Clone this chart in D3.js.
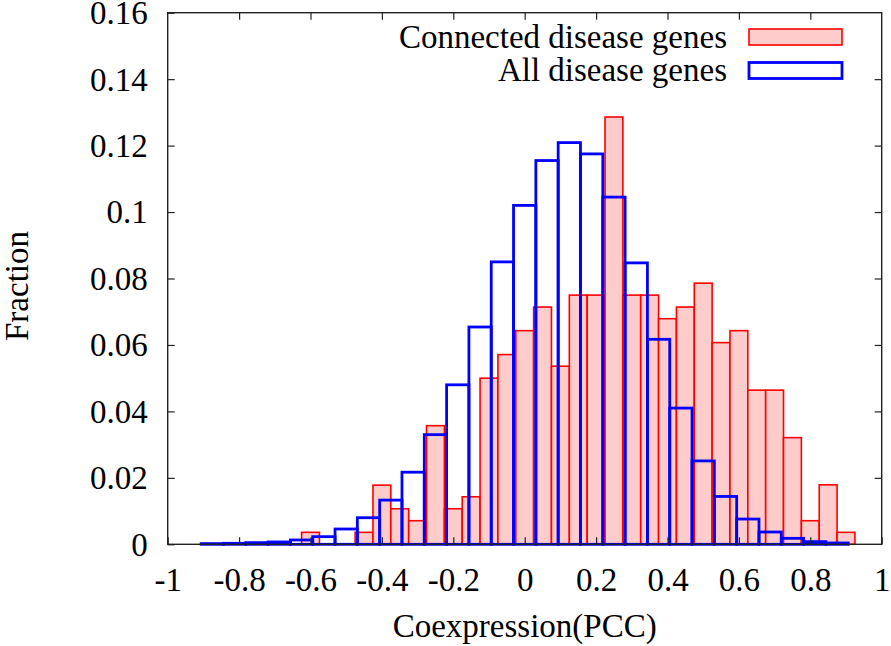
<!DOCTYPE html>
<html>
<head>
<meta charset="utf-8">
<script src="https://cdn.jsdelivr.net/npm/d3@7"></script>
<style>
  html, body { margin: 0; padding: 0; background: #fff; }
  svg { display: block; }
  text { font-family: "Liberation Serif", "Times New Roman", serif; fill: #000; }
</style>
</head>
<body>
<svg id="chart" width="891" height="646"></svg>
<script>
// ---- Data ----
// Connected disease genes: bin centers (width 0.05) and fractions
const connectedCenters = [-0.6, -0.45, -0.4, -0.35, -0.3, -0.25, -0.2, -0.15, -0.1, -0.05,
  0, 0.05, 0.1, 0.15, 0.2, 0.25, 0.3, 0.35, 0.4, 0.45, 0.5, 0.55, 0.6, 0.65, 0.7, 0.75, 0.8, 0.85, 0.9];
const connectedValues = [0.0036, 0.0036, 0.0178, 0.0107, 0.0071, 0.0357, 0.0107, 0.0143, 0.0500, 0.0571,
  0.0643, 0.0714, 0.0536, 0.0750, 0.0750, 0.1286, 0.0750, 0.0750, 0.0679, 0.0714, 0.0786, 0.0607, 0.0643,
  0.0464, 0.0464, 0.0321, 0.0071, 0.0179, 0.0036];
const connectedWidth = 0.05;

// All disease genes: bin centers (width 0.0625) and fractions
const allCenters = [-0.875, -0.8125, -0.75, -0.6875, -0.625, -0.5625, -0.5, -0.4375, -0.375, -0.3125,
  -0.25, -0.1875, -0.125, -0.0625, 0, 0.0625, 0.125, 0.1875, 0.25, 0.3125, 0.375, 0.4375, 0.5, 0.5625,
  0.625, 0.6875, 0.75, 0.8125, 0.875];
const allValues = [0.0002, 0.0003, 0.0005, 0.0007, 0.0013, 0.0023, 0.0046, 0.0080, 0.0133, 0.0217,
  0.0330, 0.0480, 0.0654, 0.0850, 0.1020, 0.1155, 0.1209, 0.1175, 0.1045, 0.0847, 0.0617, 0.0410, 0.0251,
  0.0144, 0.0076, 0.0037, 0.0018, 0.0008, 0.0004];
const allWidth = 0.0625;

const xTicks = [-1, -0.8, -0.6, -0.4, -0.2, 0, 0.2, 0.4, 0.6, 0.8, 1];
const xTickLabels = ["-1", "-0.8", "-0.6", "-0.4", "-0.2", "0", "0.2", "0.4", "0.6", "0.8", "1"];
const yTicks = [0, 0.02, 0.04, 0.06, 0.08, 0.1, 0.12, 0.14, 0.16];
const yTickLabels = ["0", "0.02", "0.04", "0.06", "0.08", "0.1", "0.12", "0.14", "0.16"];

const seriesNames = ["Connected disease genes", "All disease genes"];
const xTitle = "Coexpression(PCC)";
const yTitle = "Fraction";

// ---- Layout ----
const L = 167.7, R = 881.7, T = 12.7, B = 544.3;
const FS = 33;
const pink = "#ffcccc", red = "#ff0000", blue = "#0000ff";

const svg = d3.select("#chart");
const x = d3.scaleLinear().domain([-1, 1]).range([L, R]);
const y = d3.scaleLinear().domain([0, 0.16]).range([B, T]);

// Red histogram
const redData = connectedCenters.map((c, i) => ({c, v: connectedValues[i]}));
svg.append("g").selectAll("rect").data(redData).join("rect")
  .attr("x", d => x(d.c - connectedWidth / 2))
  .attr("width", d => x(d.c + connectedWidth / 2) - x(d.c - connectedWidth / 2))
  .attr("y", d => y(d.v))
  .attr("height", d => y(0) - y(d.v))
  .attr("fill", pink).attr("stroke", red).attr("stroke-width", 1.6);

// Blue histogram (outline only)
const blueData = allCenters.map((c, i) => ({c, v: allValues[i]}));
svg.append("g").selectAll("rect").data(blueData).join("rect")
  .attr("x", d => x(d.c - allWidth / 2))
  .attr("width", d => x(d.c + allWidth / 2) - x(d.c - allWidth / 2))
  .attr("y", d => y(d.v))
  .attr("height", d => y(0) - y(d.v))
  .attr("fill", "none").attr("stroke", blue).attr("stroke-width", 2.8);

// Frame
svg.append("rect").attr("x", L).attr("y", T).attr("width", R - L).attr("height", B - T)
  .attr("fill", "none").attr("stroke", "#222").attr("stroke-width", 1.4);

// Axes
const tickLen = 7;
const gx = svg.append("g").attr("transform", `translate(0,${B})`)
  .call(d3.axisBottom(x).tickValues(xTicks).tickSize(-tickLen).tickPadding(23)
    .tickFormat((d, i) => xTickLabels[i]));
const gxTop = svg.append("g").attr("transform", `translate(0,${T})`)
  .call(d3.axisTop(x).tickValues(xTicks.slice(1, -1)).tickSize(-tickLen).tickFormat(""));
const gy = svg.append("g").attr("transform", `translate(${L},0)`)
  .call(d3.axisLeft(y).tickValues(yTicks).tickSize(-tickLen).tickPadding(20)
    .tickFormat((d, i) => yTickLabels[i]));
const gyRight = svg.append("g").attr("transform", `translate(${R},0)`)
  .call(d3.axisRight(y).tickValues(yTicks.slice(1, -1)).tickSize(-tickLen).tickFormat(""));

[gx, gxTop, gy, gyRight].forEach(g => {
  g.select(".domain").remove();
  g.selectAll(".tick line").attr("stroke", "#222").attr("stroke-width", 1.2);
  g.selectAll("text").attr("font-family", "Liberation Serif").attr("font-size", FS).attr("fill", "#000");
});
gy.selectAll(".tick text").attr("dy", "0.33em");

// Axis titles
svg.append("text").attr("x", (L + R) / 2).attr("y", 626).attr("dy", "0.33em")
  .attr("text-anchor", "middle").attr("font-size", FS).text(xTitle);
svg.append("text").attr("transform", "translate(17,286) rotate(-90)").attr("dy", "0.33em")
  .attr("text-anchor", "middle").attr("font-size", FS).text(yTitle);

// Legend
const legend = svg.append("g");
const lg = [
  {name: seriesNames[0], fill: pink, stroke: red, sw: 1.6, cy: 37},
  {name: seriesNames[1], fill: "none", stroke: blue, sw: 2.8, cy: 70.5}
];
lg.forEach(d => {
  legend.append("text").attr("x", 727).attr("y", d.cy).attr("dy", "0.33em")
    .attr("text-anchor", "end").attr("font-size", FS).text(d.name);
  legend.append("rect").attr("x", 749).attr("y", d.cy - 8).attr("width", 93).attr("height", 16)
    .attr("fill", d.fill).attr("stroke", d.stroke).attr("stroke-width", d.sw);
});
</script>
</body>
</html>
